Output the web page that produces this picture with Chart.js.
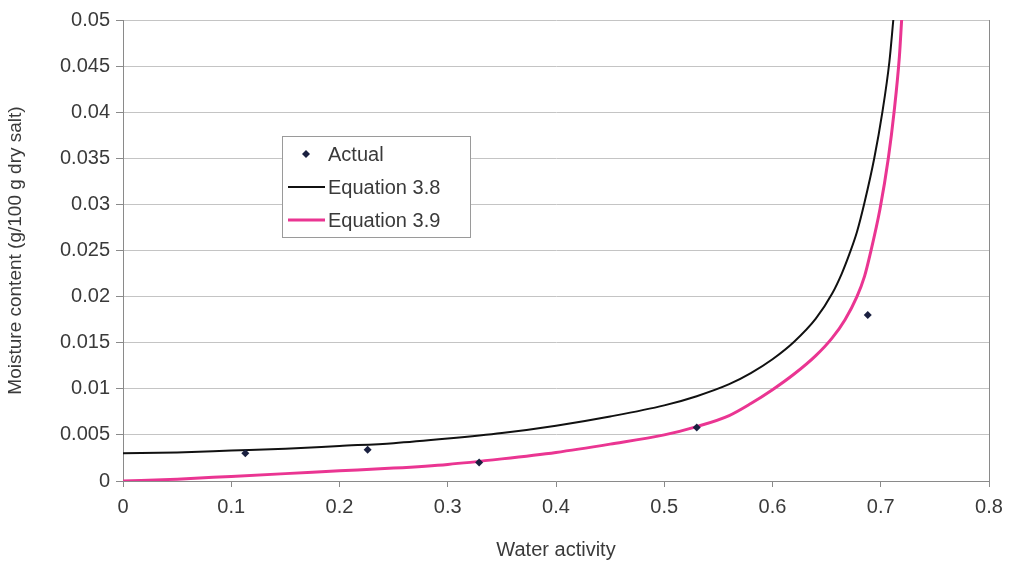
<!DOCTYPE html>
<html lang="en">

<head>
    <meta charset="UTF-8">
    <title>Moisture content vs water activity</title>
    <style>
        body { margin: 0; background: #fff; }
    </style>
</head>

<body>
    <div style="width: 1011px; height: 566px;">
        <canvas id="myChart"></canvas>
    </div>

    <script src="https://cdn.jsdelivr.net/npm/chart.js"></script>

    <script>
        // measured points
        let v_actualX = [0.113, 0.226, 0.329, 0.530, 0.688];
        let v_actualY = [0.0030, 0.0034, 0.0020, 0.0058, 0.0180];

        // Equation 3.8 (black curve)
        let v_eq38X = [0, 0.05, 0.1, 0.15, 0.2, 0.25, 0.3, 0.35, 0.4, 0.45, 0.5, 0.53, 0.56, 0.58, 0.6, 0.62, 0.64, 0.655, 0.664, 0.671, 0.678, 0.685, 0.694, 0.7015, 0.708, 0.7116];
        let v_eq38Y = [0.0030, 0.0031, 0.0033, 0.0035, 0.0038, 0.0041, 0.0046, 0.0052, 0.0060, 0.0070, 0.0082, 0.0092, 0.0105, 0.0117, 0.0132, 0.0151, 0.0176, 0.0203, 0.0225, 0.0246, 0.0270, 0.0302, 0.0350, 0.0400, 0.0455, 0.0500];

        // Equation 3.9 (pink curve)
        let v_eq39X = [0, 0.05, 0.1, 0.15, 0.2, 0.25, 0.3, 0.35, 0.4, 0.45, 0.5, 0.53, 0.56, 0.58, 0.6, 0.62, 0.64, 0.655, 0.667, 0.678, 0.685, 0.69, 0.6993, 0.707, 0.7123, 0.7172, 0.7193];
        let v_eq39Y = [0, 0.0002, 0.0005, 0.0008, 0.0011, 0.0014, 0.0018, 0.0024, 0.0031, 0.0040, 0.0050, 0.0059, 0.0071, 0.0084, 0.0099, 0.0116, 0.0136, 0.0155, 0.0175, 0.0200, 0.0222, 0.0245, 0.0295, 0.0350, 0.0400, 0.0460, 0.0500];

        // tick labels
        let v_xTicks = ["0", "0.1", "0.2", "0.3", "0.4", "0.5", "0.6", "0.7", "0.8"];
        let v_yTicks = ["0", "0.005", "0.01", "0.015", "0.02", "0.025", "0.03", "0.035", "0.04", "0.045", "0.05"];

        function f_pts(xs, ys) {
            let v_out = [];
            for (let i = 0; i < xs.length; i++) {
                v_out.push({ x: xs[i], y: ys[i] });
            }
            return v_out;
        }

        const TXT = "#3a3a3a";
        const FONT = "'Liberation Sans', Arial, sans-serif";

        // legend drawn inside the plot, like the original
        const legendBox = {
            id: "legendBox",
            afterDraw(chart) {
                const c = chart.ctx;
                c.save();
                c.fillStyle = "#fff";
                c.fillRect(282, 136, 188, 101);
                c.strokeStyle = "#9a9a9a";
                c.lineWidth = 1;
                c.strokeRect(282.5, 136.5, 188, 101);

                // Actual marker
                c.fillStyle = "#1a2040";
                c.beginPath();
                c.moveTo(306, 150);
                c.lineTo(310, 154);
                c.lineTo(306, 158);
                c.lineTo(302, 154);
                c.closePath();
                c.fill();

                c.strokeStyle = "#111";
                c.lineWidth = 2;
                c.beginPath();
                c.moveTo(288, 187);
                c.lineTo(325, 187);
                c.stroke();

                c.strokeStyle = "#ea3592";
                c.lineWidth = 3;
                c.beginPath();
                c.moveTo(288, 220);
                c.lineTo(325, 220);
                c.stroke();

                c.fillStyle = TXT;
                c.font = "20px " + FONT;
                c.textBaseline = "middle";
                c.fillText("Actual", 328, 155);
                c.fillText("Equation 3.8", 328, 188);
                c.fillText("Equation 3.9", 328, 221);
                c.restore();
            }
        };

        const ctx = document.getElementById("myChart");

        let v_chart = new Chart(ctx, {
            type: "scatter",
            data: {
                datasets: [{
                    label: "Actual",
                    data: f_pts(v_actualX, v_actualY),
                    pointStyle: "rectRot",
                    pointRadius: 4,
                    backgroundColor: "#1a2040",
                    borderColor: "#1a2040",
                    borderWidth: 0,
                    showLine: false,
                    order: 0
                }, {
                    label: "Equation 3.8",
                    data: f_pts(v_eq38X, v_eq38Y),
                    showLine: true,
                    borderColor: "#111",
                    borderWidth: 2,
                    pointRadius: 0,
                    cubicInterpolationMode: "monotone",
                    order: 2
                }, {
                    label: "Equation 3.9",
                    data: f_pts(v_eq39X, v_eq39Y),
                    showLine: true,
                    borderColor: "#ea3592",
                    borderWidth: 3,
                    pointRadius: 0,
                    cubicInterpolationMode: "monotone",
                    order: 1
                }]
            },
            options: {
                responsive: true,
                maintainAspectRatio: false,
                animation: false,
                layout: { padding: { top: 20, right: 22, left: 0, bottom: 0 } },
                plugins: {
                    legend: { display: false },
                    tooltip: { enabled: false }
                },
                scales: {
                    x: {
                        type: "linear",
                        min: 0,
                        max: 0.8,
                        afterBuildTicks: (axis) => {
                            axis.ticks = v_xTicks.map((t) => ({ value: parseFloat(t) }));
                        },
                        afterFit: (axis) => { axis.height = 85; },
                        ticks: {
                            color: TXT,
                            font: { family: FONT, size: 20 },
                            padding: 8,
                            maxRotation: 0,
                            callback: (val, i) => v_xTicks[i]
                        },
                        grid: {
                            drawOnChartArea: false,
                            tickLength: 6,
                            color: "#8a8a8a"
                        },
                        border: { color: "#8a8a8a", width: 1 },
                        title: {
                            display: true,
                            text: "Water activity",
                            color: TXT,
                            font: { family: FONT, size: 20 },
                            padding: { top: 6 }
                        }
                    },
                    y: {
                        type: "linear",
                        min: 0,
                        max: 0.05,
                        afterBuildTicks: (axis) => {
                            axis.ticks = v_yTicks.map((t) => ({ value: parseFloat(t) }));
                        },
                        afterFit: (axis) => { axis.width = 123; },
                        ticks: {
                            color: TXT,
                            font: { family: FONT, size: 20 },
                            padding: 6,
                            callback: (val, i) => v_yTicks[i]
                        },
                        grid: {
                            color: "#c4c4c4",
                            tickLength: 7,
                            tickColor: "#8a8a8a"
                        },
                        border: { color: "#8a8a8a", width: 1 },
                        title: {
                            display: true,
                            text: "Moisture content (g/100 g dry salt)",
                            color: TXT,
                            font: { family: FONT, size: 19 },
                            padding: { bottom: 2 }
                        }
                    },
                    y2: {
                        position: "right",
                        min: 0,
                        max: 0.05,
                        ticks: { display: false },
                        grid: { display: false },
                        border: { color: "#8a8a8a", width: 1 },
                        afterFit: (axis) => { axis.width = 0; }
                    }
                }
            },
            plugins: [legendBox]
        });
    </script>
</body>

</html>
